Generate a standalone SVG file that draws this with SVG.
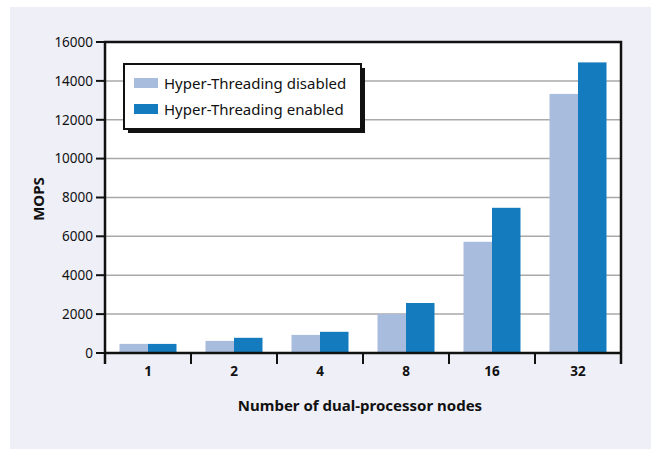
<svg xmlns="http://www.w3.org/2000/svg" width="651" height="449" viewBox="0 0 651 449">
<style>
text{font-family:"Noto Sans","Open Sans","Liberation Sans",sans-serif;fill:#111}
.tk{font-size:13.5px;text-anchor:end}
.cat{font-size:13.5px;font-weight:bold;text-anchor:middle}
.ttl{font-size:15px;font-weight:bold;text-anchor:middle}
.leg{font-size:15px}
.grid line{stroke:#a9a9a9;stroke-width:1.5}
.ax{stroke:#111;stroke-width:2.5;fill:none}
.tick{stroke:#111;stroke-width:2}
.off{fill:#a8bcdd}
.on{fill:#147cbe}
</style>
<rect x="0" y="0" width="651" height="449" fill="#ffffff"/>
<rect x="10" y="7" width="641" height="442" fill="#efeff8"/>
<rect x="105" y="42" width="516" height="311" fill="#ffffff"/>
<g class="grid">
<line x1="105" y1="314.1" x2="621" y2="314.1"/>
<line x1="105" y1="275.2" x2="621" y2="275.2"/>
<line x1="105" y1="236.3" x2="621" y2="236.3"/>
<line x1="105" y1="197.5" x2="621" y2="197.5"/>
<line x1="105" y1="158.6" x2="621" y2="158.6"/>
<line x1="105" y1="119.8" x2="621" y2="119.8"/>
<line x1="105" y1="80.9" x2="621" y2="80.9"/>
</g>
<g id="bars">
<rect class="off" x="119.5" y="343.9" width="28.5" height="9.1"/>
<rect class="on" x="148" y="343.9" width="28.5" height="9.1"/>
<rect class="off" x="205.5" y="340.9" width="28.5" height="12.1"/>
<rect class="on" x="234" y="337.8" width="28.5" height="15.2"/>
<rect class="off" x="291.5" y="334.9" width="28.5" height="18.1"/>
<rect class="on" x="320" y="331.8" width="28.5" height="21.2"/>
<rect class="off" x="377.5" y="314.1" width="28.5" height="38.9"/>
<rect class="on" x="406" y="303" width="28.5" height="50"/>
<rect class="off" x="463.5" y="241.8" width="28.5" height="111.2"/>
<rect class="on" x="492" y="207.8" width="28.5" height="145.2"/>
<rect class="off" x="549.5" y="93.9" width="28.5" height="259.1"/>
<rect class="on" x="578" y="62.4" width="28.5" height="290.6"/>
</g>
<g id="axes">
<polyline class="ax" points="105,364 105,42 621,42 621,364"/>
<line class="ax" x1="105" y1="353" x2="621" y2="353"/>
<g class="tick">
<line x1="96" y1="353" x2="105" y2="353"/>
<line x1="96" y1="314.1" x2="105" y2="314.1"/>
<line x1="96" y1="275.2" x2="105" y2="275.2"/>
<line x1="96" y1="236.3" x2="105" y2="236.3"/>
<line x1="96" y1="197.5" x2="105" y2="197.5"/>
<line x1="96" y1="158.6" x2="105" y2="158.6"/>
<line x1="96" y1="119.8" x2="105" y2="119.8"/>
<line x1="96" y1="80.9" x2="105" y2="80.9"/>
<line x1="96" y1="42" x2="105" y2="42"/>
<line x1="191" y1="353" x2="191" y2="364"/>
<line x1="277" y1="353" x2="277" y2="364"/>
<line x1="363" y1="353" x2="363" y2="364"/>
<line x1="449" y1="353" x2="449" y2="364"/>
<line x1="535" y1="353" x2="535" y2="364"/>
</g>
<text class="tk" x="93" y="357.7">0</text>
<text class="tk" x="93" y="318.8">2000</text>
<text class="tk" x="93" y="279.9">4000</text>
<text class="tk" x="93" y="241">6000</text>
<text class="tk" x="93" y="202.2">8000</text>
<text class="tk" x="93" y="163.3">10000</text>
<text class="tk" x="93" y="124.5">12000</text>
<text class="tk" x="93" y="85.6">14000</text>
<text class="tk" x="93" y="46.7">16000</text>
<text class="cat" x="148" y="375.5">1</text>
<text class="cat" x="234" y="375.5">2</text>
<text class="cat" x="320" y="375.5">4</text>
<text class="cat" x="406" y="375.5">8</text>
<text class="cat" x="492" y="375.5">16</text>
<text class="cat" x="578" y="375.5">32</text>
<text class="ttl" x="360" y="411">Number of dual-processor nodes</text>
<text class="ttl" transform="translate(44,199) rotate(-90)">MOPS</text>
</g>
<g id="legend">
<rect x="128" y="68" width="237" height="65" fill="#111"/>
<rect x="124" y="64" width="237" height="65" fill="#fff" stroke="#111" stroke-width="2"/>
<rect class="off" x="134" y="78" width="24" height="10"/>
<rect class="on" x="134" y="104" width="24" height="10"/>
<text class="leg" x="164" y="89">Hyper-Threading disabled</text>
<text class="leg" x="164" y="115">Hyper-Threading enabled</text>
</g>
</svg>
